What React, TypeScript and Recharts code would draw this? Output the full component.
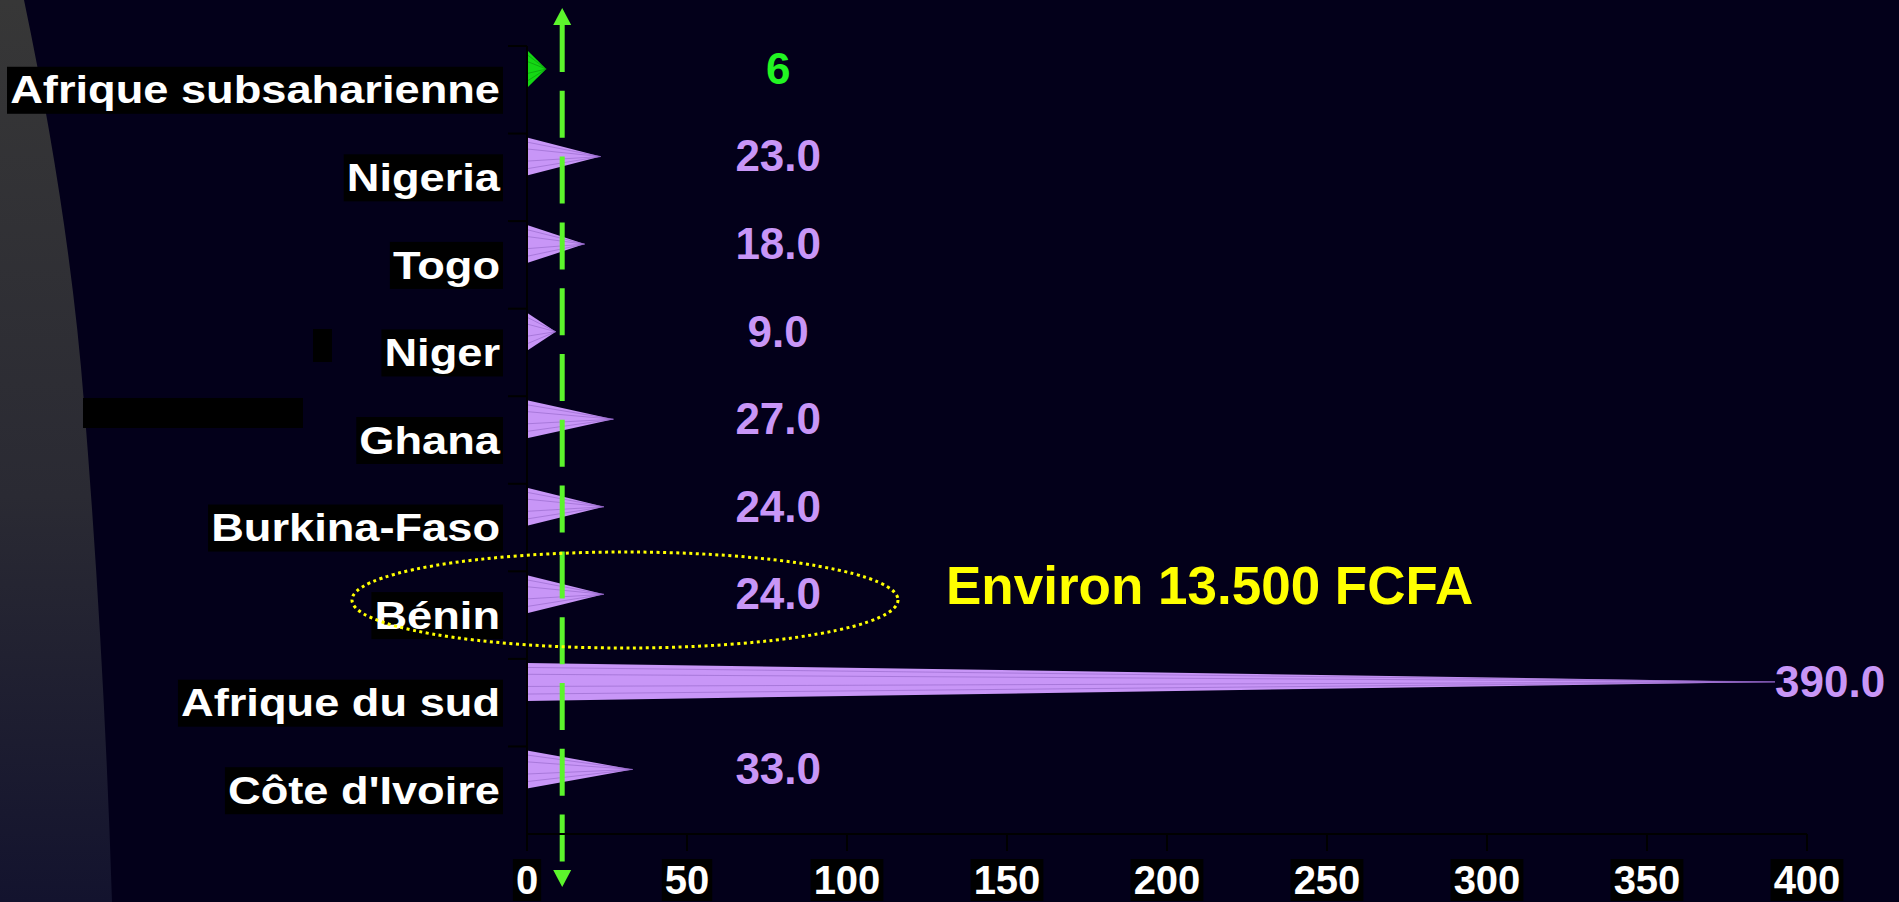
import React from "react";
import { BarChart, Bar, XAxis, YAxis, Cell, ReferenceLine, LabelList } from "recharts";

// Données
const CATEGORIES = [
  "Afrique subsaharienne",
  "Nigeria",
  "Togo",
  "Niger",
  "Ghana",
  "Burkina-Faso",
  "Bénin",
  "Afrique du sud",
  "Côte d'Ivoire",
];
const VALUES = [6, 23, 18, 9, 27, 24, 24, 390, 33];
const VALUE_LABELS = ["6", "23.0", "18.0", "9.0", "27.0", "24.0", "24.0", "390.0", "33.0"];
const X_TICKS = [0, 50, 100, 150, 200, 250, 300, 350, 400];
const THRESHOLD = 11;
const NOTE = "Environ 13.500 FCFA";

const data = CATEGORIES.map((name, i) => ({ name, value: VALUES[i], label: VALUE_LABELS[i] }));

const W = 1899;
const H = 902;
const BG = "#03001a";
const PURPLE = "#c896f7";
const PURPLE_DARK = "#8e61c2";
const GREEN_BAR = "#14d814";
const GREEN_TEXT = "#22f522";
const GREEN_LINE = "#5cf52c";
const FONT = '"Liberation Sans", Arial, sans-serif';
const LABEL_COL = 78.5; // colonne (en unités de l'axe) où sont posées les étiquettes
const BAR_SHIFT = 21; // les cônes sont dans la moitié haute de chaque bande

let ctx: CanvasRenderingContext2D | null = null;
function textWidth(s: string, font: string) {
  if (!ctx) ctx = document.createElement("canvas").getContext("2d");
  if (!ctx) return s.length * 20;
  ctx.font = font;
  return ctx.measureText(s).width;
}

function Cone(props: any) {
  const { x, y, width, height, index } = props;
  if (!width || width <= 0) return null;
  const green = index === 0;
  const top = y - BAR_SHIFT;
  const tipX = x + width;
  const tipY = top + height / 2;
  const dark = green ? "#0a8a0a" : PURPLE_DARK;
  return (
    <g>
      <polygon points={`${x},${top} ${tipX},${tipY} ${x},${top + height}`} fill={green ? GREEN_BAR : PURPLE} />
      {[0.12, 0.3, 0.62, 0.82].map((f) => (
        <line key={f} x1={x} y1={top + height * f} x2={tipX} y2={tipY} stroke={dark} strokeWidth={1} strokeOpacity={0.55} />
      ))}
      <line x1={x} y1={top} x2={x} y2={top + height} stroke="#2a1f40" strokeWidth={2} />
    </g>
  );
}

function ValueLabel(props: any) {
  const vb = props.viewBox || props;
  const x = props.x ?? vb.x;
  const y = props.y ?? vb.y;
  const width = props.width ?? vb.width;
  const height = props.height ?? vb.height;
  const i = props.index;
  const v = VALUES[i];
  if (!v || !width) return null;
  const perUnit = width / v;
  const beyond = v > LABEL_COL;
  const lx = beyond ? x + width : x + LABEL_COL * perUnit;
  const cy = y + height / 2 - 22;
  return (
    <text
      x={lx}
      y={cy}
      dy="0.36em"
      textAnchor={beyond ? "start" : "middle"}
      fill={i === 0 ? GREEN_TEXT : PURPLE}
      fontSize={44}
      fontWeight="bold"
      fontFamily={FONT}
    >
      {VALUE_LABELS[i]}
    </text>
  );
}

function CategoryTick(props: any) {
  const { x, y, payload } = props;
  const text = String(payload.value);
  const fs = 38;
  const sx = 1.19;
  const half = payload.offset || 43.8;
  const w = textWidth(text, `bold ${fs}px ${FONT}`) * sx;
  return (
    <g>
      <line x1={x + 8} y1={y - half} x2={x + 27} y2={y - half} stroke="#000" strokeWidth={2} />
      <rect x={x - w - 3} y={y - 23} width={w + 6} height={47} fill="#000" />
      <text
        transform={`translate(${x},${y}) scale(${sx},1)`}
        textAnchor="end"
        dy="0.36em"
        fill="#fff"
        fontSize={fs}
        fontWeight="bold"
        fontFamily={FONT}
      >
        {text}
      </text>
    </g>
  );
}

function NumberTick(props: any) {
  const { x, y, payload } = props;
  const s = String(payload.value);
  const fs = 40;
  const w = textWidth(s, `bold ${fs}px ${FONT}`);
  return (
    <g>
      <rect x={x - w / 2 - 3} y={y + 6} width={w + 6} height={42} fill="#000" />
      <text x={x} y={y + 41} textAnchor="middle" fill="#fff" fontSize={fs} fontWeight="bold" fontFamily={FONT}>
        {s}
      </text>
    </g>
  );
}

// ligne verticale pointillée verte avec flèches aux deux bouts
function ArrowLine(props: any) {
  const { x1, y1, y2 } = props;
  const top = Math.min(y1, y2);
  const bot = Math.max(y1, y2);
  const x = x1;
  return (
    <g>
      <line x1={x} y1={top - 21} x2={x} y2={bot + 29} stroke={GREEN_LINE} strokeWidth={5} strokeDasharray="47 18.8" />
      <polygon points={`${x - 9},${top - 21} ${x + 9},${top - 21} ${x},${top - 38}`} fill={GREEN_LINE} />
      <polygon points={`${x - 9},${bot + 36} ${x + 9},${bot + 36} ${x},${bot + 53}`} fill={GREEN_LINE} />
    </g>
  );
}

export default function App() {
  return (
    <div style={{ position: "absolute", left: 0, top: 0, width: W, height: H, overflow: "hidden", background: BG }}>
      <svg width={W} height={H} style={{ position: "absolute", left: 0, top: 0 }}>
        <defs>
          <linearGradient id="panel" x1="0" y1="0" x2="0" y2="1">
            <stop offset="0%" stopColor="#373737" />
            <stop offset="55%" stopColor="#2a2a33" />
            <stop offset="100%" stopColor="#13132e" />
          </linearGradient>
        </defs>
        <path d="M0,0 L24,0 Q70,220 84,403 Q104,650 112,902 L0,902 Z" fill="url(#panel)" />
        <rect x={83} y={398} width={220} height={30} fill="#000" />
        <rect x={313} y={329} width={19} height={33} fill="#000" />
      </svg>
      <div style={{ position: "absolute", left: 0, top: 0 }}>
        <BarChart
          width={W}
          height={H}
          data={data}
          layout="vertical"
          margin={{ top: 46, right: 92, bottom: 0, left: 0 }}
        >
          <XAxis
            type="number"
            domain={[0, 400]}
            ticks={X_TICKS}
            interval={0}
            height={68}
            tickSize={17}
            axisLine={{ stroke: "#000", strokeWidth: 2 }}
            tickLine={{ stroke: "#000", strokeWidth: 2 }}
            tick={<NumberTick />}
          />
          <YAxis
            type="category"
            dataKey="name"
            width={527}
            interval={0}
            tickSize={19}
            tickMargin={8}
            tickLine={false}
            axisLine={{ stroke: "#000", strokeWidth: 2 }}
            tick={<CategoryTick />}
          />
          <Bar dataKey="value" barSize={38} shape={<Cone />} isAnimationActive={false}>
            {data.map((d, i) => (
              <Cell key={d.name} fill={i === 0 ? GREEN_BAR : PURPLE} />
            ))}
            <LabelList dataKey="label" content={<ValueLabel />} />
          </Bar>
          <ReferenceLine x={THRESHOLD} ifOverflow="visible" shape={<ArrowLine />} />
        </BarChart>
      </div>
      <svg width={W} height={H} style={{ position: "absolute", left: 0, top: 0, pointerEvents: "none" }}>
        <ellipse cx={625} cy={600} rx={273} ry={48} fill="none" stroke="#ffff00" strokeWidth={3} strokeDasharray="3 3.5" />
        <text x={946} y={604} fill="#ffff00" fontSize={53} fontWeight="bold" fontFamily={FONT}>
          {NOTE}
        </text>
      </svg>
    </div>
  );
}
